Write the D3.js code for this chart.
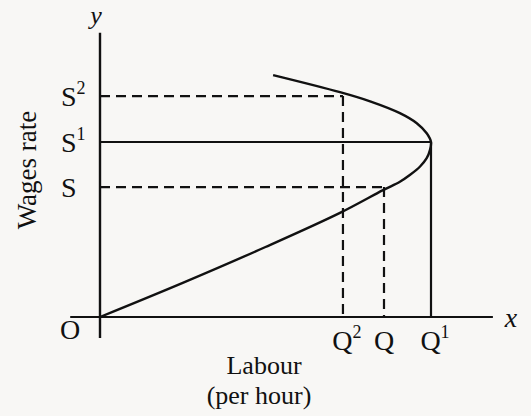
<!DOCTYPE html>
<html>
<head>
<meta charset="utf-8">
<script src="https://cdn.jsdelivr.net/npm/d3@7"></script>
<style>
  body { margin: 0; background: #f8f7f5; }
  svg { display: block; }
  text { font-family: "Liberation Serif", "DejaVu Serif", serif; fill: #111; }
</style>
</head>
<body>
<svg id="chart" width="531" height="416"></svg>
<script>
// quantity labels on the x axis and the matching wage levels on the y axis
const qLabels = ['Q', 'Q', 'Q'];
const qSups = ['2', '', '1'];
const qValues = [7.34, 8.58, 10];
const sLabels = ['S', 'S', 'S'];
const sSups = ['2', '', '1'];
const sValues = [5.05, 2.97, 4];
const dashed = [true, true, false];

// backward-bending supply curve (labour, wage)
const curveX = [0, 2.5, 5, 7.25, 8.55, 9.06, 9.37, 9.67, 9.87, 9.97, 10, 9.87, 9.57, 9.06, 8.16, 7.25, 5.23];
const curveY = [0, 0.78, 1.6, 2.38, 2.9, 3.09, 3.25, 3.44, 3.63, 3.82, 4, 4.2, 4.43, 4.66, 4.93, 5.14, 5.53];

const svg = d3.select('#chart');

const x = d3.scaleLinear().domain([0, 10]).range([100, 431]);
const y = d3.scaleLinear().domain([0, 4]).range([317, 142]);

const ink = '#111';

// axes
svg.append('line')
  .attr('x1', x(-0.9)).attr('x2', x(11.87))
  .attr('y1', y(0)).attr('y2', y(0))
  .attr('stroke', ink).attr('stroke-width', 2.2);

svg.append('line')
  .attr('x1', x(0)).attr('x2', x(0))
  .attr('y1', y(6.5)).attr('y2', y(-0.48))
  .attr('stroke', ink).attr('stroke-width', 2.4);

// guide lines from the axis to the curve and down
const guides = qValues.map((q, i) => ({ q, s: sValues[i], dashed: dashed[i] }));

guides.forEach(g => {
  svg.append('line')
    .attr('x1', x(0)).attr('x2', x(g.q))
    .attr('y1', y(g.s)).attr('y2', y(g.s))
    .attr('stroke', ink).attr('stroke-width', g.dashed ? 2.2 : 1.8)
    .attr('stroke-dasharray', g.dashed ? '10,6' : null);
  svg.append('line')
    .attr('x1', x(g.q)).attr('x2', x(g.q))
    .attr('y1', y(g.s)).attr('y2', y(0))
    .attr('stroke', ink).attr('stroke-width', 2.2)
    .attr('stroke-dasharray', g.dashed ? '10,6' : null);
});

// supply curve
const pts = curveX.map((v, i) => [v, curveY[i]]);
svg.append('path')
  .datum(pts)
  .attr('fill', 'none')
  .attr('stroke', ink)
  .attr('stroke-width', 2.4)
  .attr('d', d3.line().x(d => x(d[0])).y(d => y(d[1])).curve(d3.curveCatmullRom.alpha(0.5)));

// wage labels
sLabels.forEach((s, i) => {
  const t = svg.append('text')
    .attr('x', 61).attr('y', y(sValues[i]) + 10)
    .attr('font-size', 28);
  t.append('tspan').text(s);
  if (sSups[i]) t.append('tspan').attr('dy', -12).attr('font-size', 18).text(sSups[i]);
});

// quantity labels
qLabels.forEach((q, i) => {
  const t = svg.append('text')
    .attr('x', x(qValues[i]) + (qSups[i] ? 4 : 0))
    .attr('y', 350)
    .attr('text-anchor', 'middle')
    .attr('font-size', 28);
  t.append('tspan').text(q);
  if (qSups[i]) t.append('tspan').attr('dy', -12).attr('font-size', 18).text(qSups[i]);
});

svg.append('text').attr('x', 70).attr('y', 339).attr('text-anchor', 'middle')
  .attr('font-size', 28).text('O');

svg.append('text').attr('x', 96).attr('y', 24).attr('text-anchor', 'middle')
  .attr('font-size', 26).attr('font-style', 'italic').text('y');

svg.append('text').attr('x', 511).attr('y', 327).attr('text-anchor', 'middle')
  .attr('font-size', 28).attr('font-style', 'italic').text('x');

svg.append('text')
  .attr('transform', 'translate(36,170) rotate(-90)')
  .attr('text-anchor', 'middle')
  .attr('font-size', 27)
  .text('Wages rate');

svg.append('text').attr('x', 264).attr('y', 374).attr('text-anchor', 'middle')
  .attr('font-size', 26).text('Labour');

svg.append('text').attr('x', 259).attr('y', 404).attr('text-anchor', 'middle')
  .attr('font-size', 26).text('(per hour)');
</script>
</body>
</html>
